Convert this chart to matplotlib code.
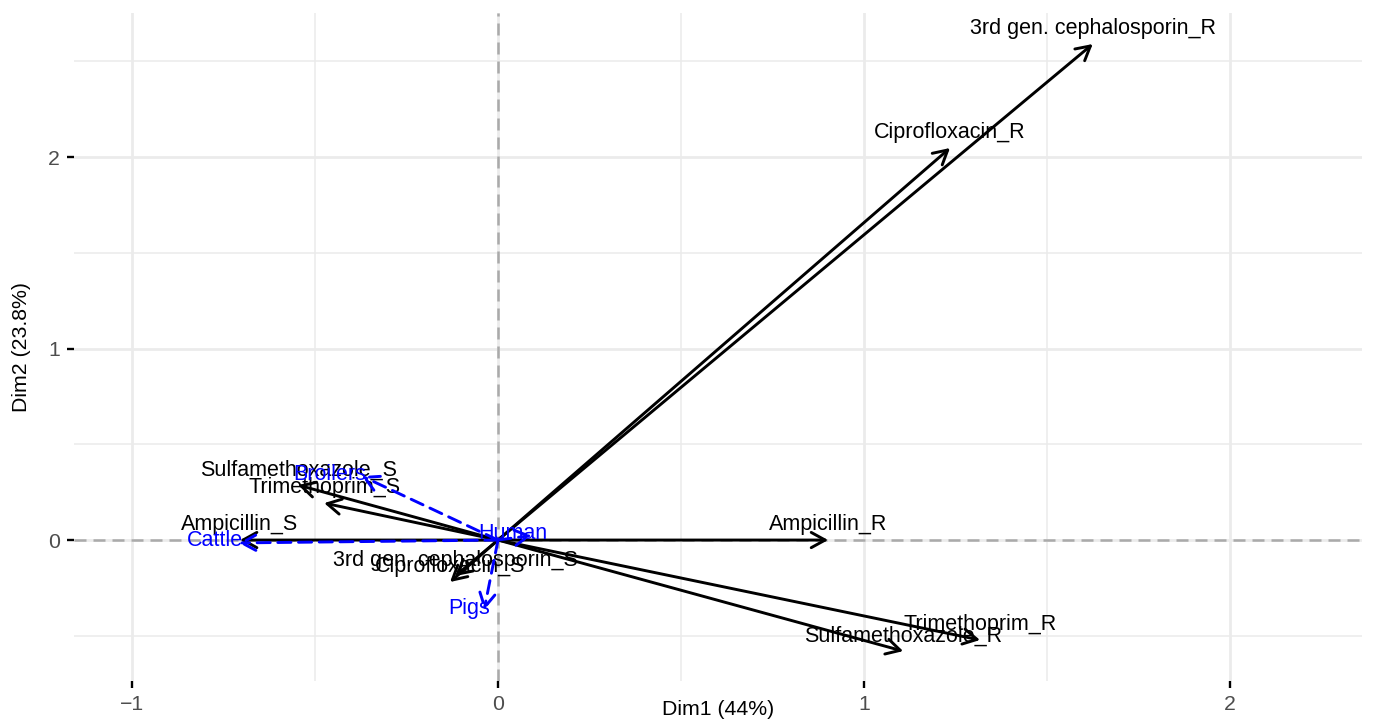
import matplotlib
matplotlib.use("Agg")
import matplotlib.pyplot as plt
from matplotlib.patches import FancyArrowPatch
from matplotlib.ticker import MultipleLocator, FixedLocator

plt.rcParams['font.family'] = ['Liberation Sans', 'DejaVu Sans']

# active variables (categories) - MCA coordinates
var_names = ["Ampicillin_R", "Ampicillin_S", "Ciprofloxacin_R", "Ciprofloxacin_S",
             "3rd gen. cephalosporin_R", "3rd gen. cephalosporin_S",
             "Sulfamethoxazole_R", "Sulfamethoxazole_S",
             "Trimethoprim_R", "Trimethoprim_S"]
var_dim1 = [0.902, -0.705, 1.235, -0.131, 1.625, -0.117, 1.107, -0.546, 1.317, -0.475]
var_dim2 = [0.000, 0.000, 2.047, -0.219, 2.590, -0.188, -0.580, 0.287, -0.522, 0.193]

# supplementary categories (host)
sup_names = ["Broilers", "Cattle", "Human", "Pigs"]
sup_dim1 = [-0.372, -0.708, 0.092, -0.038]
sup_dim2 = [0.334, -0.015, 0.024, -0.366]

dim1_pct = 44
dim2_pct = 23.8

W, H = 1385, 722
fig = plt.figure(figsize=(W / 100, H / 100), dpi=100)
ax = fig.add_axes([74 / W, 41 / H, (1362 - 74) / W, (681 - 13) / H])

ax.set_xlim(-1.1585, 2.3607)
ax.set_ylim(-0.736, 2.752)

for s in ax.spines.values():
    s.set_visible(False)

ax.xaxis.set_major_locator(FixedLocator([-1, 0, 1, 2]))
ax.yaxis.set_major_locator(FixedLocator([0, 1, 2]))
ax.xaxis.set_minor_locator(MultipleLocator(0.5))
ax.yaxis.set_minor_locator(MultipleLocator(0.5))
ax.grid(which='major', color='#EBEBEB', linewidth=2.0, zorder=0)
ax.grid(which='minor', color='#EBEBEB', linewidth=1.1, zorder=0)
ax.set_axisbelow(True)
ax.tick_params(which='major', direction='out', length=5, width=1.7,
               color='black', labelcolor='#4D4D4D', labelsize=15.3, pad=5)
ax.tick_params(which='minor', length=0)

ax.axhline(0, color='#AAAAAA', lw=1.8, ls=(0, (4.8, 2.8)), zorder=1)
ax.axvline(0, color='#AAAAAA', lw=1.8, ls=(0, (4.8, 2.8)), zorder=1)

style = "->,head_length=1.0,head_width=0.55"

for name, x, y in zip(var_names, var_dim1, var_dim2):
    arr = FancyArrowPatch((0, 0), (x, y), arrowstyle=style, mutation_scale=10,
                          color='black', lw=2.1, shrinkA=0, shrinkB=0, zorder=3)
    ax.add_patch(arr)
for name, x, y in zip(var_names, var_dim1, var_dim2):
    ax.annotate(name, (x, y), xytext=(0, 7), textcoords='offset points',
                ha='center', va='baseline', fontsize=15.5, color='black', zorder=4)

sup_nudge = [3, 3, 11, 4]
for name, x, y, dx in zip(sup_names, sup_dim1, sup_dim2, sup_nudge):
    arr = FancyArrowPatch((0, 0), (x, y), arrowstyle=style, mutation_scale=10,
                          color='#0000FF', lw=2.1, ls=(0, (4.5, 2.6)),
                          shrinkA=0, shrinkB=0, zorder=5)
    ax.add_patch(arr)
    ax.annotate(name, (x, y), xytext=(dx, -2.5), textcoords='offset points',
                ha='right', va='baseline', fontsize=15.5, color='#0000FF', zorder=6)

ax.set_xlabel(f"Dim1 ({dim1_pct}%)", fontsize=15.3, color='black')
ax.set_ylabel(f"Dim2 ({dim2_pct}%)", fontsize=15.3, color='black')
ax.xaxis.set_label_coords(0.5, -0.028)
ax.xaxis.label.set_va('top')
ax.yaxis.set_label_coords(-0.0404, 0.5)
ax.yaxis.label.set_va('center')

fig.savefig("out.png", dpi=100)
